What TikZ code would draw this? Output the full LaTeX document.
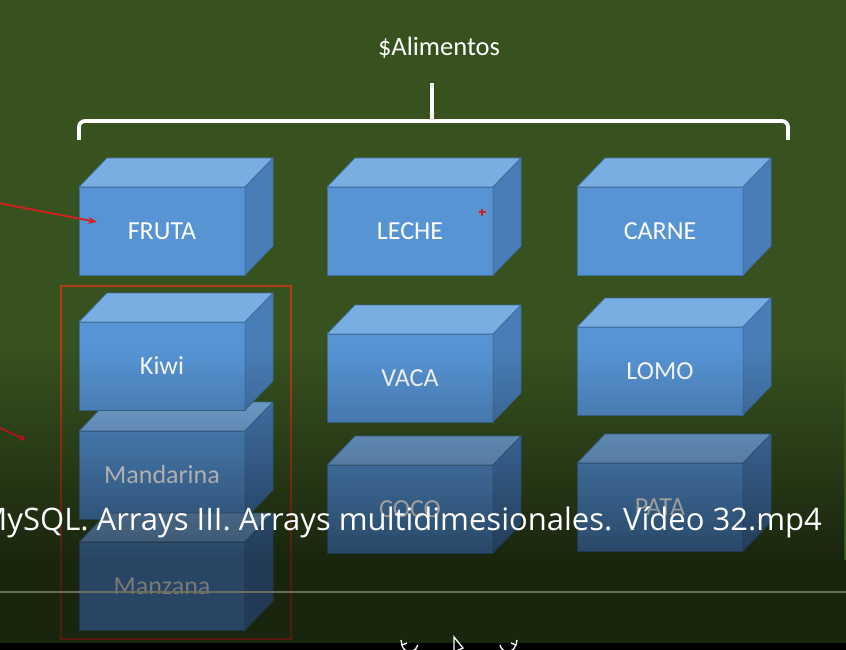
\documentclass[tikz,border=0pt]{standalone}
\usepackage{fontspec}
\setmainfont{Carlito}
\newfontfamily\subfont{Open Sans}
\usetikzlibrary{arrows.meta,fadings,calc}
\definecolor{bggreen}{HTML}{37511F}
\definecolor{cubefront}{HTML}{5694D4}
\definecolor{cubetop}{HTML}{79AEE2}
\definecolor{cubeside}{HTML}{487DB7}
\definecolor{cubeedge}{HTML}{41709F}
\definecolor{boxred}{HTML}{B03A1C}
\definecolor{arrred}{HTML}{D81E1E}
\definecolor{progress}{HTML}{6B6E5E}
\tikzfading[name=fadedown, top color=transparent!100, bottom color=transparent!0]
\tikzset{
  frontface/.style={fill=cubefront, draw=cubeedge, line width=0.8pt,
    minimum width=166pt, minimum height=88pt, inner sep=0pt, outer sep=0pt,
    anchor=north west, text=white, font=\fontsize{26}{30}\selectfont},
  topface/.style={fill=cubetop, draw=cubeedge, line width=0.8pt, line join=round},
  sideface/.style={fill=cubeside, draw=cubeedge, line width=0.8pt, line join=round},
  bracestyle/.style={draw=white, line width=3.8pt},
  redarrow/.style={draw=arrred, line width=1.8pt},
  playicon/.style={draw=white, line width=1.3pt}
}
\newcommand{\cubebox}[4]{%
  \node[frontface] (#1) at (#2,#3) {#4};
  \path[topface] (#1.north west) -- ++(28,-29) -- ($(#1.north east)+(28,-29)$) -- (#1.north east) -- cycle;
  \path[sideface] (#1.north east) -- ++(28,-29) -- ($(#1.south east)+(28,-29)$) -- (#1.south east) -- cycle;
}
\begin{document}
\begin{tikzpicture}[x=1pt,y=-1pt]
\useasboundingbox (0,0) rectangle (846,650);
\clip (0,0) rectangle (846,650);
\fill[bggreen] (0,0) rectangle (846,650);

% title and brace
\node[text=white, font=\fontsize{26.5}{30}\selectfont] (title) at (439,48) {\$Alimentos};
\draw[bracestyle, rounded corners=6pt] (79,140) -- (79,121) -- (788,121) -- (788,140);
\coordinate (bracetip) at (432,83);
\coordinate (bracemid) at (432,121);
\draw[bracestyle] (bracetip) -- (bracemid);

% cubes, left column
\cubebox{fruta}{79}{187}{FRUTA}
\cubebox{mandarina}{79}{431}{Mandarina}
\cubebox{manzana}{79}{542}{Manzana}
\cubebox{kiwi}{79}{322}{Kiwi}
% middle column
\cubebox{leche}{327}{187}{LECHE}
\cubebox{coco}{327}{465}{COCO}
\cubebox{vaca}{327}{334}{VACA}
% right column
\cubebox{carne}{577}{187}{CARNE}
\cubebox{pata}{577}{463}{PATA}
\cubebox{lomo}{577}{327}{LOMO}

% red selection box
\node[draw=boxred, line width=2.8pt, minimum width=230pt, minimum height=353pt,
      inner sep=0pt, anchor=north west] (selbox) at (59.5,284.5) {};

% red pen marks
\coordinate (arrstart) at (-2,203);
\coordinate (arrend) at (97,222);
\draw[redarrow, -{Stealth[length=9pt,width=7pt]}] (arrstart) -- (arrend);
\coordinate (dotstart) at (-2,427);
\coordinate (dotend) at (22,438);
\draw[redarrow] (dotstart) -- (dotend);
\fill[arrred] (dotend) circle (2.8pt);
\coordinate (plusmark) at (482,212);
\draw[arrred, line width=1.2pt] ($(plusmark)+(-3.5,0)$) -- ($(plusmark)+(3.5,0)$);
\draw[arrred, line width=1.2pt] ($(plusmark)+(0,-3.5)$) -- ($(plusmark)+(0,3.5)$);

% video player dark overlay
\fill[black, opacity=0.53, path fading=fadedown] (0,350) rectangle (846,560);
\fill[black, opacity=0.53] (0,560) rectangle (846,650);

% subtitle
\node[anchor=base east, text=white, font=\subfont\fontsize{31}{35}\selectfont, inner sep=0pt] (subtitle) at (822,530)
  {MySQL. Arrays III. Arrays multidimesionales. Vídeo 32.mp4};

% progress line
\coordinate (progl) at (0,592);
\coordinate (progr) at (846,592);
\draw[progress, line width=1.6pt] (progl) -- (progr);

% bottom bar and controls
\fill[black] (0,643) rectangle (846,650);
\draw[playicon] (402,645) arc[start angle=170, end angle=10, radius=8];
\draw[playicon] (401,640) -- (402,645) -- (407,643);
\draw[playicon, line join=miter] (454,637) -- (454,652) -- (463,648) -- cycle;
\draw[playicon] (500,645) arc[start angle=170, end angle=10, radius=8];
\draw[playicon] (517,640) -- (516,645) -- (511,643);
\end{tikzpicture}
\end{document}
